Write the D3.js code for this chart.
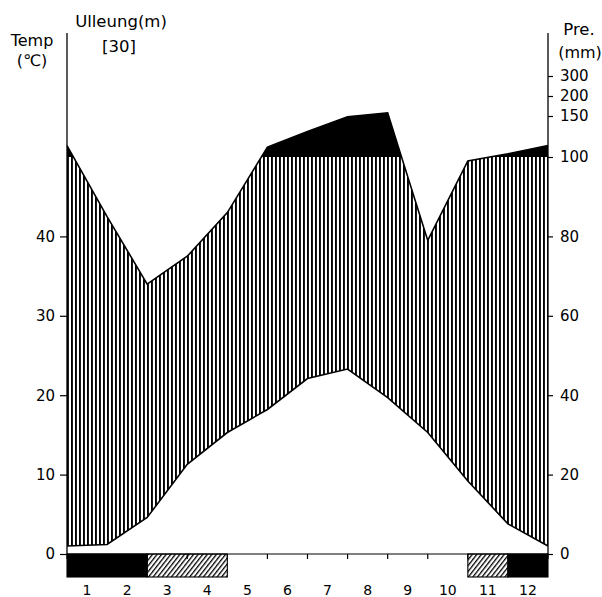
<!DOCTYPE html>
<html><head><meta charset="utf-8">
<script src="https://cdn.jsdelivr.net/npm/d3@7"></script>
<style>
body{margin:0;background:#fff}
svg{display:block}
text{font-family:"DejaVu Sans",sans-serif;fill:#000}
</style>
</head><body>
<svg id="c" width="602" height="597"></svg>
<script>
// ---- data ----
const months = ["1","2","3","4","5","6","7","8","9","10","11","12"];
const tempC = [1.0, 1.2, 4.6, 11.3, 15.3, 18.2, 22.1, 23.3, 19.7, 15.3, 9.2, 3.8];
const precipMm = [114, 85, 68, 75, 86, 112, 131, 149, 158, 79, 99, 104];
const tempTicks = [0, 10, 20, 30, 40];
const precipTicks = [0, 20, 40, 60, 80, 100, 150, 200, 300];
const frostBar = ["black","black","hatch","hatch","none","none","none","none","none","none","hatch","black"];
const station = "Ulleung(m)";
const elevation = "[30]";

// ---- scales ----
const x = d3.scaleLinear().domain([0, 12]).range([67, 548]);
const yT = d3.scaleLinear().domain([0, 50]).range([554, 157]);
const yP = d3.scaleLinear().domain([0, 100, 150, 200, 300]).range([554, 157, 116, 96, 76]);

const svg = d3.select("#c");
const defs = svg.append("defs");
const vh = defs.append("pattern").attr("id","vh").attr("patternUnits","userSpaceOnUse")
  .attr("width",4).attr("height",10).attr("x",67);
vh.append("rect").attr("x",0).attr("y",0).attr("width",1.9).attr("height",10).attr("fill","#000");
const dh = defs.append("pattern").attr("id","dh").attr("patternUnits","userSpaceOnUse")
  .attr("width",3.6).attr("height",10).attr("patternTransform","rotate(38)");
dh.append("rect").attr("x",0).attr("y",0).attr("width",1.3).attr("height",10).attr("fill","#000");

defs.append("clipPath").attr("id","above").append("rect")
  .attr("x",0).attr("y",0).attr("width",602).attr("height",yP(100));
defs.append("clipPath").attr("id","below").append("rect")
  .attr("x",0).attr("y",yP(100)).attr("width",602).attr("height",597-yP(100));

// closed year: boundary points 0..12 (value wraps to January)
const pts = d3.range(13).map(i => ({i, t: tempC[i % 12], p: precipMm[i % 12]}));

// humid (vertical hatching) area
svg.append("path").datum(pts)
  .attr("clip-path","url(#below)")
  .attr("fill","url(#vh)")
  .attr("d", d3.area().x(d=>x(d.i)).y0(d=>yT(d.t)).y1(d=>yP(d.p)));
// precipitation above 100 mm (black)
svg.append("path").datum(pts)
  .attr("clip-path","url(#above)")
  .attr("fill","#000")
  .attr("d", d3.area().x(d=>x(d.i)).y0(yP(100)).y1(d=>yP(d.p)));

// lines
svg.append("path").datum(pts).attr("fill","none").attr("stroke","#000").attr("stroke-width",1.6)
  .attr("d", d3.line().x(d=>x(d.i)).y(d=>yT(d.t)));
svg.append("path").datum(pts).attr("fill","none").attr("stroke","#000").attr("stroke-width",1.6)
  .attr("d", d3.line().x(d=>x(d.i)).y(d=>yP(d.p)));

// axes
const gL = svg.append("g").attr("transform",`translate(${x(0)},0)`)
  .call(d3.axisLeft(yT).tickValues(tempTicks).tickSize(7).tickPadding(5));
gL.select(".domain").remove();
gL.selectAll("text").style("font-size","15px").style("font-family","DejaVu Sans");
gL.selectAll("line").attr("stroke-width",1.2);

const gR = svg.append("g").attr("transform",`translate(${x(12)},0)`)
  .call(d3.axisRight(yP).tickValues(precipTicks).tickSize(5).tickPadding(7));
gR.select(".domain").remove();
gR.selectAll("text").style("font-size","15px").style("font-family","DejaVu Sans");
gR.selectAll("line").attr("stroke-width",1.2);

svg.append("line").attr("x1",x(0)).attr("x2",x(0)).attr("y1",33).attr("y2",yT(0))
  .attr("stroke","#000").attr("stroke-width",1.3);
svg.append("line").attr("x1",x(12)).attr("x2",x(12)).attr("y1",33).attr("y2",yT(0))
  .attr("stroke","#000").attr("stroke-width",1.3);
// zero line
svg.append("line").attr("x1",x(0)).attr("x2",x(12)).attr("y1",yT(0)).attr("y2",yT(0))
  .attr("stroke","#000").attr("stroke-width",1);

// month boundary ticks
svg.selectAll(".mt").data(d3.range(13)).join("line")
  .attr("x1",d=>x(d)).attr("x2",d=>x(d)).attr("y1",yT(0)).attr("y2",yT(0)+5)
  .attr("stroke","#000").attr("stroke-width",1.2);

// frost bar: one rect per run of months of the same kind
const barTop = yT(0), barH = 23;
const runs = [];
frostBar.forEach((k,i)=>{
  if (k==="none") return;
  const last = runs[runs.length-1];
  if (last && last.k===k && last.end===i) last.end = i+1;
  else runs.push({k, start:i, end:i+1});
});
svg.selectAll(".fr").data(runs).join("rect")
  .attr("x",d=>x(d.start)).attr("y",barTop).attr("width",d=>x(d.end)-x(d.start)).attr("height",barH)
  .attr("fill",d=>d.k==="black" ? "#000" : "url(#dh)")
  .attr("stroke","#000").attr("stroke-width",1.1);

// month labels
svg.selectAll(".ml").data(months).join("text")
  .attr("x",(d,i)=>x(i+0.5)).attr("y",595).attr("text-anchor","middle")
  .style("font-size","14px").text(d=>d);

// titles
svg.append("text").attr("x",32).attr("y",46).attr("text-anchor","middle").style("font-size","16px").text("Temp");
svg.append("text").attr("x",32).attr("y",66).attr("text-anchor","middle").style("font-size","16px").text("(℃)");
svg.append("text").attr("x",121).attr("y",27).attr("text-anchor","middle").style("font-size","16.5px").text(station);
svg.append("text").attr("x",119).attr("y",52).attr("text-anchor","middle").style("font-size","16.5px").text(elevation);
svg.append("text").attr("x",579).attr("y",35).attr("text-anchor","middle").style("font-size","16.5px").text("Pre.");
svg.append("text").attr("x",580).attr("y",58).attr("text-anchor","middle").style("font-size","16px").text("(mm)");
</script>
</body></html>
